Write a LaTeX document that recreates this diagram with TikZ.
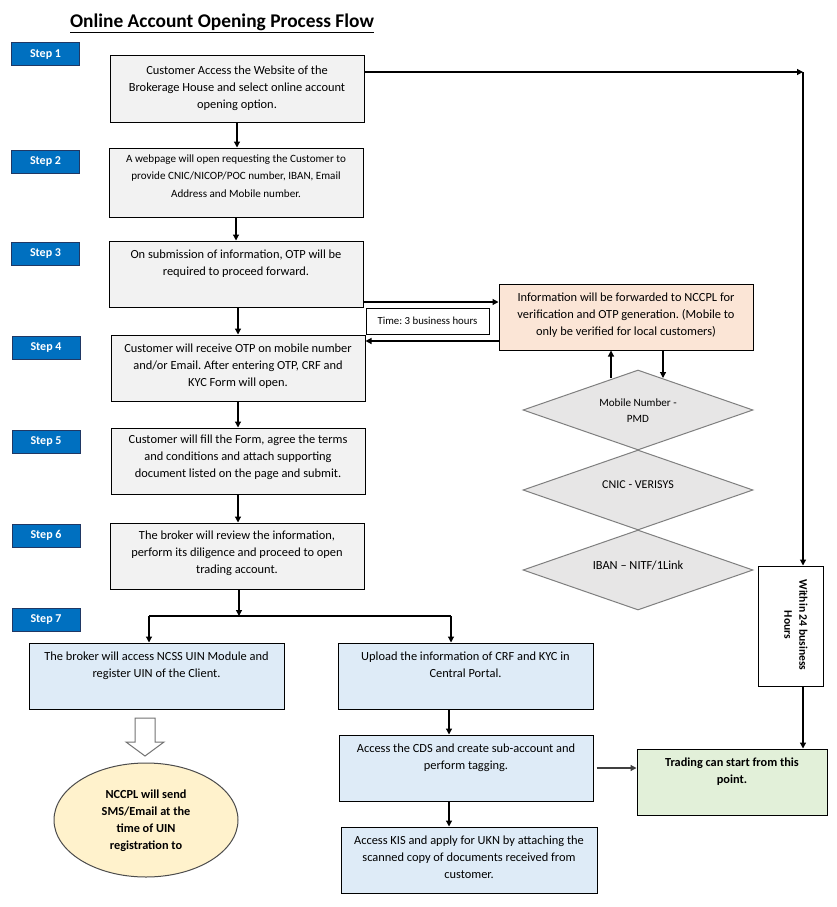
\documentclass[tikz,border=0pt]{standalone}
\usepackage{fontspec}
\setmainfont{Carlito}
\frenchspacing
\usetikzlibrary{arrows.meta,shapes.geometric}
\definecolor{stepblue}{HTML}{0070C0}
\definecolor{stepedge}{HTML}{203864}
\definecolor{boxgray}{HTML}{F2F2F2}
\definecolor{boxblue}{HTML}{DEEBF7}
\definecolor{boxorange}{HTML}{FBE5D6}
\definecolor{boxgreen}{HTML}{E2F0D9}
\definecolor{boxyellow}{HTML}{FFF2CC}
\definecolor{diagray}{HTML}{E7E6E6}
\definecolor{diaedge}{HTML}{7F7F7F}
\begin{document}
\begin{tikzpicture}[x=1pt,y=-1pt,
  stepbox/.style={draw=stepedge, fill=stepblue, line width=1pt, minimum width=68pt, minimum height=23pt, inner sep=0pt, text=white, font=\fontsize{12}{13}\selectfont\bfseries},
  gbox/.style={draw=black, fill=boxgray, line width=1pt, minimum width=254pt, minimum height=66pt, inner sep=0pt},
  bbox/.style={draw=black, fill=boxblue, line width=1pt, minimum width=255pt, minimum height=66pt, inner sep=0pt},
  txt/.style={align=center, inner sep=0pt, anchor=north, font=\fontsize{12.4}{17.3}\selectfont},
  stxt/.style={align=center, inner sep=0pt, anchor=north, font=\fontsize{11.1}{17.5}\selectfont},
  dia/.style={diamond, draw=diaedge, fill=diagray, line width=1pt, minimum width=230pt, minimum height=80pt, aspect=2.875, inner sep=0pt},
  arr/.style={line width=1.2pt, -{Triangle[length=6pt,width=6pt]}},
  ln/.style={line width=1.2pt}]
\useasboundingbox (0,0) rectangle (837,907);
\fill[white] (0,0) rectangle (837,907);

% title
\node[font=\fontsize{19.4}{22}\selectfont\bfseries, inner sep=0pt] (title) at (222,23) {\underline{Online Account Opening Process Flow}};

% steps
\node[stepbox] (s1) at (45.5,54.5) {Step 1};
\node[stepbox] (s2) at (45.5,162) {Step 2};
\node[stepbox] (s3) at (45.5,254) {Step 3};
\node[stepbox] (s4) at (46,348) {Step 4};
\node[stepbox] (s5) at (46,441.5) {Step 5};
\node[stepbox] (s6) at (46,535.5) {Step 6};
\node[stepbox] (s7) at (46,620) {Step 7};

% main boxes
\node[gbox] (b1) at (237,89) {};
\node[txt] (t1) at ([yshift=-10pt]b1.north) {Customer Access the Website of the\\Brokerage House and select online account\\opening option.};
\node[gbox, minimum height=69pt] (b2) at (236,182.5) {};
\node[stxt] (t2) at ([yshift=-7pt]b2.north) {A webpage will open requesting the Customer to\\provide CNIC/NICOP/POC number, IBAN, Email\\Address and Mobile number.};
\node[gbox] (b3) at (236,274) {};
\node[txt] (t3) at ([yshift=-9pt]b3.north) {On submission of information, OTP will be\\required to proceed forward.};
\node[gbox] (b4) at (238,368) {};
\node[txt] (t4) at ([yshift=-9pt]b4.north) {Customer will receive OTP on mobile number\\and/or Email. After entering OTP, CRF and\\KYC Form will open.};
\node[gbox] (b5) at (238,461) {};
\node[txt] (t5) at ([yshift=-7pt]b5.north) {Customer will fill the Form, agree the terms\\and conditions and attach supporting\\document listed on the page and submit.};
\node[gbox] (b6) at (237,556) {};
\node[txt] (t6) at ([yshift=-8pt]b6.north) {The broker will review the information,\\perform its diligence and proceed to open\\trading account.};

% step 7 boxes
\node[bbox] (l1) at (156.5,676) {};
\node[txt] (tl1) at ([yshift=-9pt]l1.north) {The broker will access NCSS UIN Module and\\register UIN of the Client.};
\node[bbox] (r1) at (465.5,676) {};
\node[txt] (tr1) at ([yshift=-9pt]r1.north) {Upload the information of CRF and KYC in\\Central Portal.};
\node[bbox, minimum width=254pt] (r2) at (466,768) {};
\node[txt] (tr2) at ([yshift=-9pt]r2.north) {Access the CDS and create sub-account and\\perform tagging.};
\node[bbox, minimum width=256pt] (r3) at (469,860) {};
\node[txt] (tr3) at ([yshift=-9pt]r3.north) {Access KIS and apply for UKN by attaching the\\scanned copy of documents received from\\customer.};

\node[draw=black, fill=boxgreen, line width=1pt, minimum width=190pt, minimum height=66pt, inner sep=0pt] (trade) at (732,782) {};
\node[txt, font=\fontsize{12.3}{17.5}\selectfont\bfseries] (ttrade) at ([yshift=-9pt]trade.north) {Trading can start from this\\point.};

\node[ellipse, draw=black!70, fill=boxyellow, line width=1pt, minimum width=184pt, minimum height=114pt, inner sep=0pt] (ell) at (146,820) {};
\node[txt, font=\fontsize{12.3}{17}\selectfont\bfseries, anchor=center] (tell) at (146,821) {NCCPL will send\\SMS/Email at the\\time of UIN\\registration to};

% hollow arrow
\draw[draw=black!55, fill=white, line width=1pt] (135,718) -- (155,718) -- (155,742) -- (164,742) -- (145,756) -- (126,742) -- (135,742) -- cycle;

% NCCPL side
\node[draw=black, fill=boxorange, line width=1pt, minimum width=254pt, minimum height=66pt, inner sep=0pt] (nccpl) at (626,317) {};
\node[txt] (tn) at ([yshift=-9pt]nccpl.north) {Information will be forwarded to NCCPL for\\verification and OTP generation. (Mobile to\\only be verified for local customers)};
\node[draw=black, line width=1pt, minimum width=123pt, minimum height=26pt, inner sep=0pt, font=\fontsize{10.8}{12}\selectfont] (time) at (427.5,321) {Time: 3 business hours};

\node[dia] (d1) at (638,410) {};
\node[stxt, font=\fontsize{11.1}{16}\selectfont, anchor=center] (td1) at (638,411) {Mobile Number -\\PMD};
\node[dia] (d2) at (638,490) {};
\node[stxt, font=\fontsize{12}{13}\selectfont, anchor=center] (td2) at (638,485) {CNIC - VERISYS};
\node[dia] (d3) at (638,570) {};
\node[stxt, font=\fontsize{12.4}{13}\selectfont, anchor=center] (td3) at (638,565) {IBAN – NITF/1Link};

\node[draw=black, fill=white, line width=1pt, minimum width=65pt, minimum height=120pt, inner sep=0pt] (w24) at (790.5,626) {};
\node[align=center, inner sep=0pt, rotate=-90, font=\fontsize{11.6}{15}\selectfont\bfseries] (tw24) at (796,625) {Within 24 business\\Hours};

% coordinates
\coordinate (corner) at (803,72);
\coordinate (split) at (239,616);
\coordinate (sl) at (149,616);
\coordinate (sr) at (451,616);
\coordinate (ax) at (449,0);
\coordinate (cx) at (803,0);
\coordinate (upx) at (611,378);
\coordinate (dnx) at (663,378);
\coordinate (ya) at (0,302);
\coordinate (yb) at (0,341);

% connectors main column
\draw[arr] (b1.south) -- (b1.south |- b2.north);
\draw[arr] (b2.south) -- (b2.south |- b3.north);
\draw[arr] (b3.south -| b4.north) -- (b4.north);
\draw[arr] (b4.south) -- (b5.north);
\draw[arr] (b5.south) -- (b5.south |- b6.north);
\draw[arr] (b6.south -| split) -- (split);
\draw[ln] (sl) -- (sr);
\draw[arr] (sl) -- (sl |- l1.north);
\draw[arr] (sr) -- (sr |- r1.north);
\draw[arr] (r1.south -| ax) -- (r2.north -| ax);
\draw[arr] (r2.south -| ax) -- (r3.north -| ax);
\draw[arr, draw=black!75] ([xshift=3pt]r2.east) -- (r2.east -| trade.west);

% top right route
\draw[arr] (b1.east |- corner) -- (corner);
\draw[arr] (corner) -- (corner |- w24.north);
\draw[arr] (w24.south -| cx) -- (trade.north -| cx);

% NCCPL connectors
\draw[arr] (b3.east |- ya) -- (nccpl.west |- ya);
\draw[arr] (nccpl.west |- yb) -- (b4.east |- yb);
\draw[arr] (upx) -- (upx |- nccpl.south);
\draw[arr] (dnx |- nccpl.south) -- (dnx);
\end{tikzpicture}
\end{document}
